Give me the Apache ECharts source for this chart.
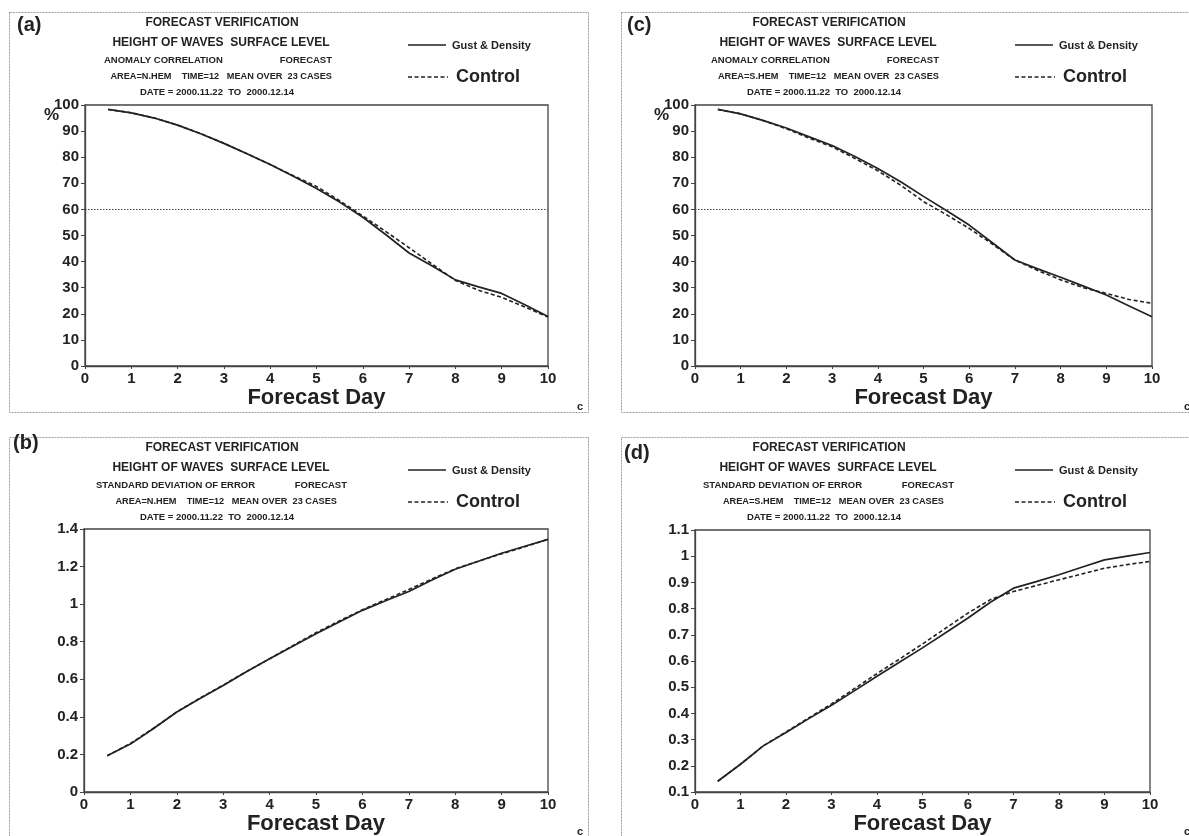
<!DOCTYPE html>
<html>
<head>
<meta charset="utf-8">
<script src="https://cdn.jsdelivr.net/npm/echarts@6/dist/echarts.min.js"></script>
<style>
  html, body { margin: 0; padding: 0; background: #fff; }
  #chart { width: 1189px; height: 836px; }
</style>
</head>
<body>
<div id="chart"></div>
<script>
// forecast days (12 h steps)
const days = [0.5, 1, 1.5, 2, 2.5, 3, 3.5, 4, 4.5, 5, 5.5, 6, 6.5, 7, 7.5, 8, 8.5, 9, 9.5, 10];

// (a) anomaly correlation, N.HEM
const nhAcGust    = [98.3, 97.0, 95.0, 92.3, 89.0, 85.3, 81.3, 77.2, 72.7, 68.0, 62.8, 57.0, 50.3, 43.3, 38.3, 33.0, 30.3, 27.8, 23.5, 19.0];
const nhAcControl = [98.3, 97.0, 95.0, 92.3, 89.0, 85.3, 81.3, 77.2, 72.9, 68.8, 63.3, 57.5, 51.5, 45.3, 39.0, 32.8, 29.0, 26.3, 22.6, 18.8];
// (c) anomaly correlation, S.HEM
const shAcGust    = [98.3, 96.6, 94.0, 91.2, 87.8, 84.5, 80.3, 75.7, 70.6, 65.0, 59.6, 54.0, 47.3, 40.6, 37.2, 34.0, 30.6, 27.2, 23.0, 18.9];
const shAcControl = [98.3, 96.6, 94.0, 90.9, 87.3, 84.0, 79.5, 74.8, 69.3, 63.0, 58.0, 52.7, 46.8, 40.6, 36.6, 33.0, 30.0, 27.8, 25.5, 24.0];
// (b) standard deviation of error, N.HEM
const nhSdGust    = [0.193, 0.255, 0.338, 0.426, 0.498, 0.567, 0.640, 0.709, 0.776, 0.843, 0.905, 0.967, 1.018, 1.067, 1.128, 1.186, 1.228, 1.271, 1.308, 1.345];
const nhSdControl = [0.193, 0.258, 0.340, 0.426, 0.500, 0.569, 0.641, 0.709, 0.779, 0.848, 0.910, 0.970, 1.024, 1.078, 1.134, 1.188, 1.228, 1.268, 1.305, 1.345];
// (d) standard deviation of error, S.HEM
const shSdGust    = [0.141, 0.206, 0.276, 0.327, 0.380, 0.431, 0.486, 0.542, 0.596, 0.650, 0.707, 0.764, 0.825, 0.878, 0.903, 0.929, 0.958, 0.986, 1.000, 1.014];
const shSdControl = [0.141, 0.206, 0.276, 0.329, 0.383, 0.436, 0.494, 0.552, 0.608, 0.665, 0.724, 0.783, 0.835, 0.865, 0.888, 0.910, 0.932, 0.954, 0.968, 0.980];

const seriesNames = ['Gust & Density', 'Control'];
const refLevel = 60;

const FONT = '"Liberation Sans", Arial, Helvetica, sans-serif';
const INK = '#222';

const panels = [
    { tag: '(a)', tagX: 17, tagY: 25, tx: 0, ty: 0, stat: 'ANOMALY CORRELATION', statX: 104, fcX: 332, areaR: 332, area: 'N.HEM',
      grid: { left: 85, top: 105, width: 463, height: 261 }, min: 0, max: 100, interval: 10, ref: true, pct: true,
      gust: nhAcGust, control: nhAcControl },
    { tag: '(c)', tagX: 627, tagY: 25, tx: 607, ty: 0, stat: 'ANOMALY CORRELATION', statX: 104, fcX: 332, areaR: 332, area: 'S.HEM',
      grid: { left: 695, top: 105, width: 457, height: 261 }, min: 0, max: 100, interval: 10, ref: true, pct: true,
      gust: shAcGust, control: shAcControl },
    { tag: '(b)', tagX: 13, tagY: 443, tx: 0, ty: 425, stat: 'STANDARD DEVIATION OF ERROR', statX: 96, fcX: 347, areaR: 337, area: 'N.HEM',
      grid: { left: 84, top: 529, width: 464, height: 264 }, min: 0, max: 1.4, interval: 0.2, ref: false, pct: false,
      gust: nhSdGust, control: nhSdControl },
    { tag: '(d)', tagX: 624, tagY: 453, tx: 607, ty: 425, stat: 'STANDARD DEVIATION OF ERROR', statX: 96, fcX: 347, areaR: 337, area: 'S.HEM',
      grid: { left: 695, top: 530, width: 455, height: 263 }, min: 0.1, max: 1.1, interval: 0.1, ref: false, pct: false,
      gust: shSdGust, control: shSdControl }
];

function txt(x, y, s, size, align, weight) {
    return {
        type: 'text', silent: true,
        style: {
            x: x, y: y, text: s, fill: INK,
            font: (weight || 'bold') + ' ' + size + 'px ' + FONT,
            textAlign: align || 'left', textVerticalAlign: 'middle',
            align: align || 'left', verticalAlign: 'middle'
        }
    };
}

function pairs(vals) {
    return days.map((d, i) => [d, vals[i]]);
}

const grids = [], xAxes = [], yAxes = [], series = [], graphics = [];

// panel frames (scanned page boxes)
[[9, 12, 579, 400], [621, 12, 600, 400], [9, 437, 579, 420], [621, 437, 600, 420]].forEach(r => {
    graphics.push({
        type: 'rect', silent: true, z: -1,
        shape: { x: r[0] + 0.5, y: r[1] + 0.5, width: r[2], height: r[3] },
        style: { fill: null, stroke: '#9a9a9a', lineWidth: 1, lineDash: [2, 1] }
    });
});

panels.forEach((p, i) => {
    const X = v => v + p.tx;
    const Y = v => v + p.ty;

    grids.push(Object.assign({ show: true, borderColor: '#444', borderWidth: 1.3, backgroundColor: 'transparent' }, p.grid));

    xAxes.push({
        type: 'value', gridIndex: i, min: 0, max: 10, interval: 1,
        name: 'Forecast Day', nameLocation: 'middle', nameGap: 21,
        nameTextStyle: { fontFamily: FONT, fontWeight: 'bold', fontSize: 22, color: INK },
        axisLine: { lineStyle: { color: '#444', width: 1.3 } },
        axisTick: { show: true, length: 3, lineStyle: { color: '#444' } },
        axisLabel: { fontFamily: FONT, fontWeight: 'bold', fontSize: 15, color: INK, margin: 5 },
        splitLine: { show: false }
    });

    yAxes.push({
        type: 'value', gridIndex: i, min: p.min, max: p.max, interval: p.interval,
        axisLine: { show: true, lineStyle: { color: '#444', width: 1.3 } },
        axisTick: { show: true, length: 4, lineStyle: { color: '#444' } },
        axisLabel: { fontFamily: FONT, fontWeight: 'bold', fontSize: 15, color: INK, margin: 6,
                     formatter: v => String(Math.round(v * 10) / 10) },
        splitLine: { show: false }
    });

    const gust = {
        name: seriesNames[0], type: 'line', xAxisIndex: i, yAxisIndex: i,
        data: pairs(p.gust), symbol: 'none', smooth: false,
        lineStyle: { color: INK, width: 1.7 }, z: 3
    };
    if (p.ref) {
        gust.markLine = {
            silent: true, symbol: 'none', label: { show: false },
            lineStyle: { color: '#444', width: 1, type: [1.5, 1.5] },
            data: [{ yAxis: refLevel }]
        };
    }
    series.push(gust);
    series.push({
        name: seriesNames[1], type: 'line', xAxisIndex: i, yAxisIndex: i,
        data: pairs(p.control), symbol: 'none', smooth: false,
        lineStyle: { color: INK, width: 1.6, type: [4, 2.5] }, z: 2
    });

    // header block
    graphics.push(txt(p.tagX, p.tagY, p.tag, 20));
    graphics.push(txt(X(222), Y(23), 'FORECAST VERIFICATION', 12, 'center'));
    graphics.push(txt(X(221), Y(43), 'HEIGHT OF WAVES  SURFACE LEVEL', 12, 'center'));
    graphics.push(txt(X(p.statX), Y(60), p.stat, 9.5));
    graphics.push(txt(X(p.fcX), Y(60), 'FORECAST', 9.5, 'right'));
    graphics.push(txt(X(p.areaR), Y(76), 'AREA=' + p.area + '    TIME=12   MEAN OVER  23 CASES', 9.2, 'right'));
    graphics.push(txt(X(217), Y(92), 'DATE = 2000.11.22  TO  2000.12.14', 9.5, 'center'));

    // key
    graphics.push({ type: 'line', silent: true, shape: { x1: X(408), y1: Y(45), x2: X(446), y2: Y(45) },
                    style: { stroke: INK, lineWidth: 1.5 } });
    graphics.push(txt(X(452), Y(46), seriesNames[0], 11));
    graphics.push({ type: 'line', silent: true, shape: { x1: X(408), y1: Y(77), x2: X(448), y2: Y(77) },
                    style: { stroke: INK, lineWidth: 1.5, lineDash: [4, 2.5] } });
    graphics.push(txt(X(456), Y(77), seriesNames[1], 18));

    if (p.pct) graphics.push(txt(p.grid.left - 41, p.grid.top + 10, '%', 17, 'left'));
    // small scan mark at box corner
    graphics.push(txt(X(580), Y(407), 'c', 11, 'center'));
});

const chart = echarts.init(document.getElementById('chart'), null, { renderer: 'canvas' });
chart.setOption({
    animation: false,
    backgroundColor: '#fff',
    textStyle: { fontFamily: FONT },
    grid: grids,
    xAxis: xAxes,
    yAxis: yAxes,
    series: series,
    graphic: { elements: graphics }
});
</script>
</body>
</html>
